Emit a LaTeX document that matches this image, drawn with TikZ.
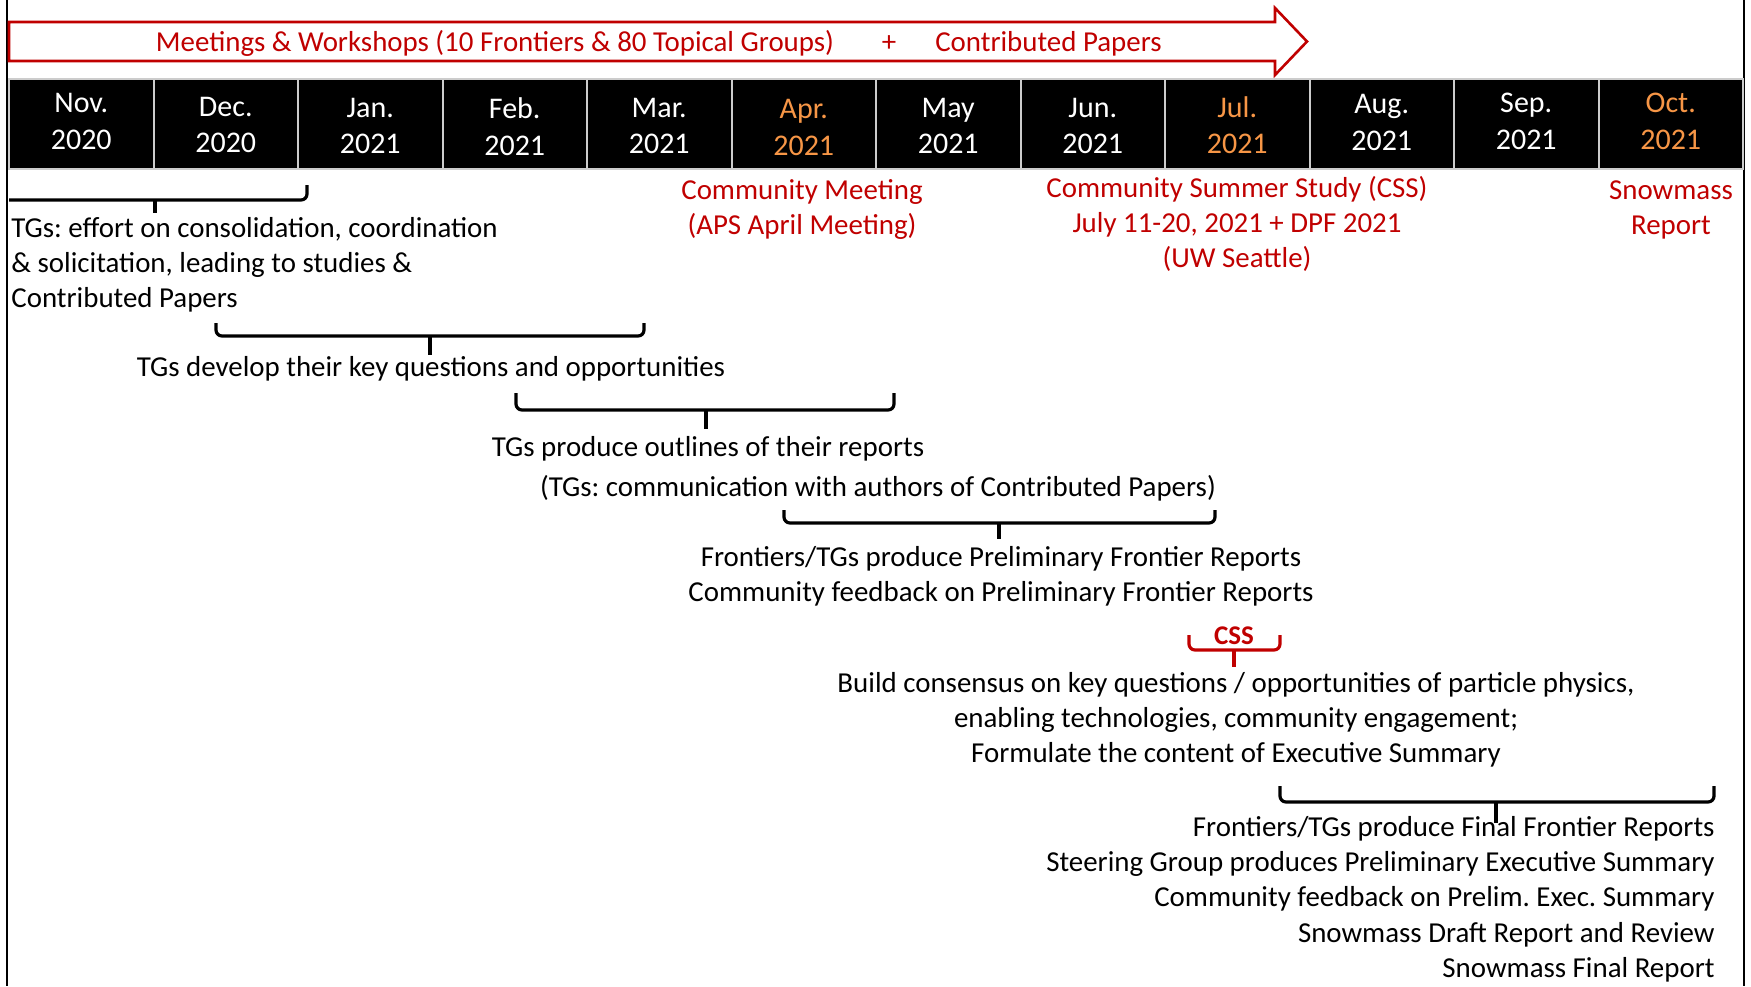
\documentclass[tikz,border=0pt]{standalone}
\usepackage{fontspec}
\setmainfont{Carlito}
\frenchspacing
\definecolor{tlred}{RGB}{192,0,0}
\definecolor{tlorange}{RGB}{247,150,70}

\begin{document}
\begin{tikzpicture}[x=0.5pt,y=-0.5pt,
  monthcell/.style={fill=black,draw=black!20,line width=1pt},
  monthtext/.style={inner sep=0pt,align=center,font=\fontsize{15}{18.4}\selectfont},
  bodytext/.style={inner sep=0pt,font=\fontsize{14.45}{17.5}\selectfont},
  redtext/.style={bodytext,text=tlred,align=center},
  bracket/.style={line width=1.6pt,rounded corners=3pt},
]
\useasboundingbox (0,0) rectangle (1751,986);

%Shape: Frame lines
\draw [line width=1pt] (7,0) -- (7,986);
\draw [line width=1pt] (1744,0) -- (1744,986);

%Shape: Right Arrow
\draw [tlred,line width=1.3pt,fill=white] (9,22) -- (1275,22) -- (1275,8) -- (1307,41.5) -- (1275,75) -- (1275,61) -- (9,61) -- cycle ;
% Text Node
\draw (495,51) node [anchor=base][inner sep=0pt,font=\fontsize{14.45}{17.5}\selectfont,text=tlred] (meetings) {Meetings \& Workshops (10 Frontiers \& 80 Topical Groups)};
% Text Node
\draw (889,51) node [anchor=base][inner sep=0pt,font=\fontsize{14.45}{17.5}\selectfont,text=tlred] (plus) {+};
% Text Node
\draw (1048.5,51) node [anchor=base][inner sep=0pt,font=\fontsize{14.45}{17.5}\selectfont,text=tlred] (contrib) {Contributed Papers};

%Shape: Month bar
\foreach \mon/\yr/\col/\bl [count=\i from 0] in {Nov./2020/white/112.2, Dec./2020/white/115.6, Jan./2021/white/116.7, Feb./2021/white/117.8, Mar./2021/white/116.7, Apr./2021/tlorange/117.8, May/2021/white/116.7, Jun./2021/white/116.7, Jul./2021/tlorange/116.7, Aug./2021/white/113.4, Sep./2021/white/112.2, Oct./2021/tlorange/112.2}
{
  \draw [monthcell] (9+\i*144.5,79) rectangle ++(144.5,90);
  \draw (81.25+\i*144.5,\bl-25.76) node [anchor=north][monthtext,text=\col] (month\i) {\strut\mon\\\yr};
}

%Shape: Brace
\draw [bracket] (9,200) -- (307,200) -- (307,185);
\draw [bracket] (155,200) -- (155,213);
% Text Node
\draw (11,212.5) node [anchor=north west][bodytext,align=left] (effort) {\strut TGs: effort on consolidation, coordination\\\& solicitation, leading to studies \&\\Contributed Papers};

% Text Node
\draw (802,174.5) node [anchor=north][redtext] (aprmeeting) {\strut Community Meeting\\(APS April Meeting)};
% Text Node
\draw (1237,172.5) node [anchor=north][redtext] (summerstudy) {\strut Community Summer Study (CSS)\\July 11-20, 2021 + DPF 2021\\(UW Seattle)};
% Text Node
\draw (1671,174.5) node [anchor=north][redtext] (report) {\strut Snowmass\\Report};

%Shape: Brace
\draw [bracket] (216,323) |- (644,336) -- (644,323);
\draw [bracket] (430,336) -- (430,355);
% Text Node
\draw (431,376) node [anchor=base][bodytext] (keyq) {TGs develop their key questions and opportunities};

%Shape: Brace
\draw [bracket] (516,393) |- (894,410) -- (894,393);
\draw [bracket] (706,410) -- (706,429);
% Text Node
\draw (708,456) node [anchor=base][bodytext] (outlines) {TGs produce outlines of their reports};
% Text Node
\draw (878,496) node [anchor=base][bodytext] (authors) {(TGs: communication with authors of Contributed Papers)};

%Shape: Brace
\draw [bracket] (784,510) |- (1215,523) -- (1215,510);
\draw [bracket] (999,523) -- (999,539);
% Text Node
\draw (1001,541.5) node [anchor=north][bodytext,align=center] (prelim) {\strut Frontiers/TGs produce Preliminary Frontier Reports\\Community feedback on Preliminary Frontier Reports};

%Shape: Brace (CSS)
\draw [bracket,tlred] (1189,635) |- (1280,650) -- (1280,635);
\draw [bracket,tlred] (1234,650) -- (1234,667);
% Text Node
\draw (1234,644) node [anchor=base][inner sep=0pt,font=\fontsize{13.5}{16}\selectfont\bfseries,text=tlred] (css) {CSS};
% Text Node
\draw (1236,667.5) node [anchor=north][bodytext,align=center] (consensus) {\strut Build consensus on key questions / opportunities of particle physics,\\enabling technologies, community engagement;\\Formulate the content of Executive Summary};

%Shape: Brace
\draw [bracket] (1280,786) |- (1714,802) -- (1714,786);
\draw [bracket] (1496,802) -- (1496,823);
% Text Node
\draw (1715,811.4) node [anchor=north east][bodytext,align=right,font=\fontsize{14.45}{17.6}\selectfont] (final) {\strut Frontiers/TGs produce Final Frontier Reports\\Steering Group produces Preliminary Executive Summary\\Community feedback on Prelim. Exec. Summary\\Snowmass Draft Report and Review\\Snowmass Final Report};

\end{tikzpicture}
\end{document}
